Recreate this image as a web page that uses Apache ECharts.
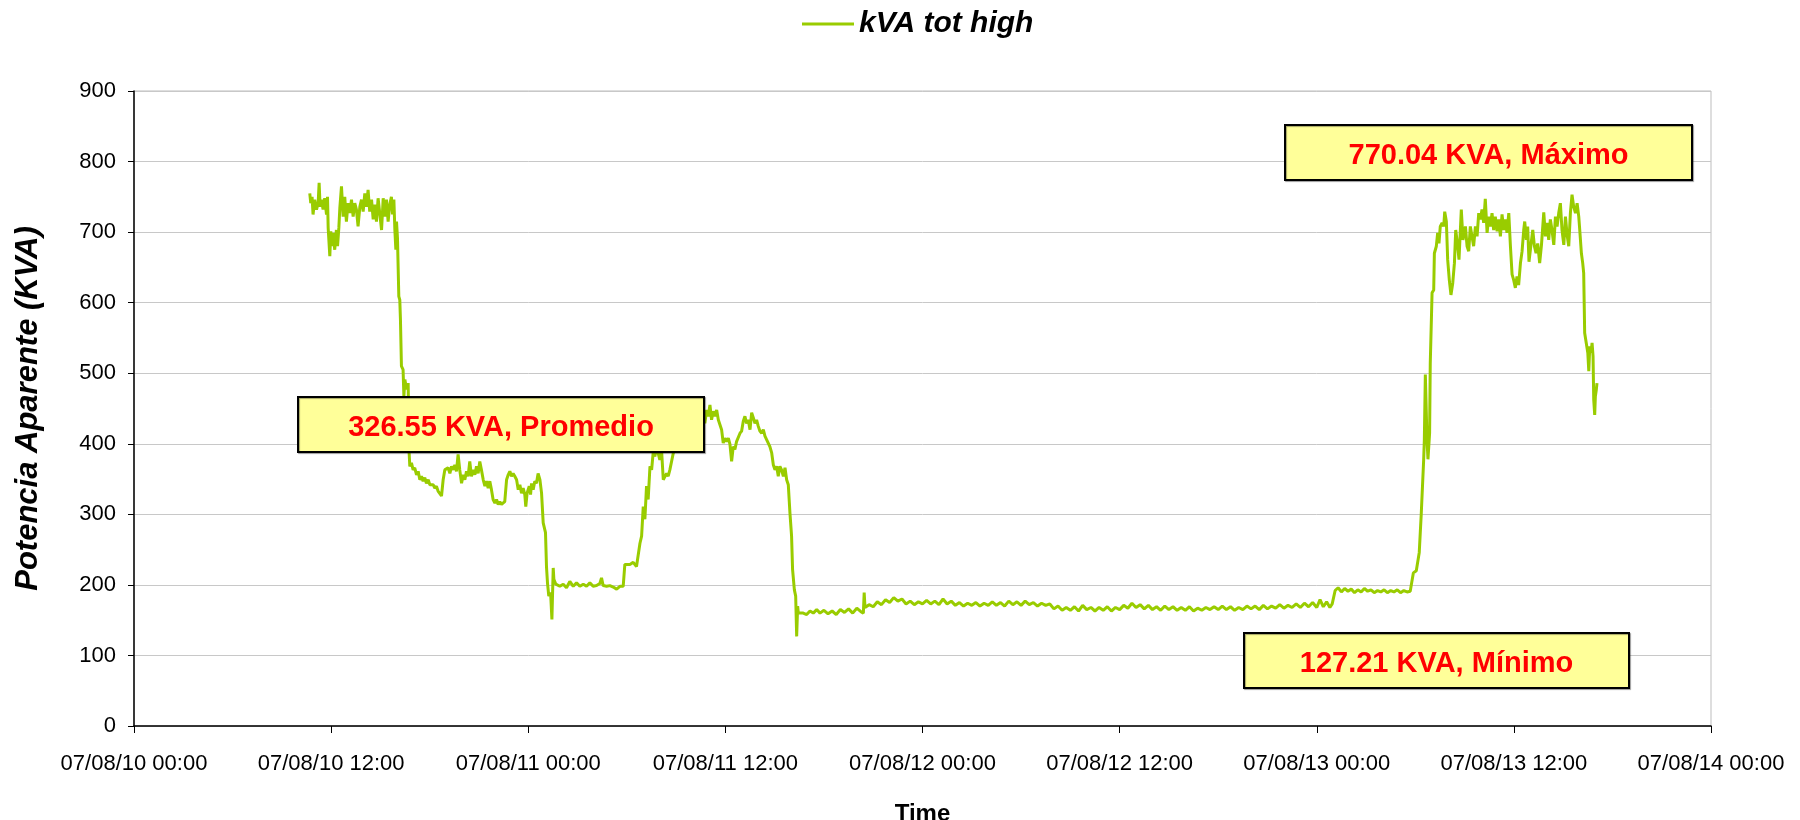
<!DOCTYPE html>
<html>
<head>
<meta charset="utf-8">
<title>kVA tot high</title>
<script src="https://cdn.jsdelivr.net/npm/echarts@6/dist/echarts.min.js"></script>
<style>
  html, body { margin: 0; padding: 0; background: #fff; }
  #main { width: 1800px; height: 820px; }
</style>
</head>
<body>
<div id="main"></div>
<script>
// hours since 07/08/10 00:00
var hours = [
  10.70, 10.76, 10.84, 10.90, 11.00, 11.11, 11.21, 11.27, 11.33, 11.41, 11.51, 11.61, 11.72, 11.78, 11.82,
  11.92, 11.98, 12.06, 12.12, 12.22, 12.32, 12.39, 12.47, 12.53, 12.63, 12.73, 12.83, 12.93, 13.03, 13.14,
  13.24, 13.34, 13.44, 13.54, 13.64, 13.75, 13.85, 13.95, 14.05, 14.15, 14.25, 14.35, 14.46, 14.56, 14.66,
  14.76, 14.86, 14.96, 15.07, 15.17, 15.27, 15.37, 15.47, 15.57, 15.67, 15.74, 15.82, 15.88, 15.94, 15.98,
  16.04, 16.10, 16.12, 16.18, 16.22, 16.28, 16.38, 16.43, 16.49, 16.59, 16.69, 16.74,
  16.79, 16.89, 16.99, 17.09, 17.20, 17.30, 17.40, 17.50, 17.60, 17.70, 17.80, 17.91, 18.01, 18.11, 18.21,
  18.31, 18.41, 18.51, 18.62, 18.72, 18.82, 18.92, 19.02, 19.12, 19.23, 19.33, 19.43, 19.53, 19.63, 19.73,
  19.83, 19.94, 20.04, 20.14, 20.24, 20.34, 20.44, 20.54, 20.65, 20.75, 20.85, 20.95, 21.05, 21.15, 21.26,
  21.36, 21.46, 21.56, 21.66, 21.76, 21.86, 21.97, 22.07, 22.17, 22.27, 22.37, 22.47, 22.57, 22.68, 22.78,
  22.88, 22.98, 23.08, 23.18, 23.29, 23.39, 23.49, 23.59, 23.69, 23.79, 23.85, 23.93, 24.06, 24.14, 24.20,
  24.30, 24.40, 24.50, 24.60, 24.71, 24.81, 24.91, 25.05, 25.11, 25.17, 25.25, 25.36, 25.44, 25.52, 25.56,
  25.68, 25.92, 26.13, 26.33, 26.53, 26.74, 26.94, 27.14, 27.35, 27.55, 27.75, 27.95, 28.16, 28.36, 28.46,
  28.56, 28.77, 28.97, 29.17, 29.38, 29.58, 29.78, 29.88, 29.98, 30.19, 30.39, 30.59, 30.69, 30.80, 30.90,
  31.00, 31.10, 31.20, 31.30, 31.41, 31.51, 31.61, 31.71, 31.81, 32.01, 32.12, 32.22, 32.32, 32.42, 32.52,
  32.62, 32.72, 32.83, 32.93, 33.03, 33.44, 33.84, 34.25, 34.55, 34.65, 34.75, 34.86, 34.96, 35.06, 35.16,
  35.26, 35.36, 35.47, 35.57, 35.67, 35.77, 35.87, 35.97, 36.07, 36.18, 36.28, 36.38, 36.48, 36.58, 36.68,
  36.78, 36.89, 36.99, 37.09, 37.19, 37.29, 37.39, 37.50, 37.60, 37.70, 37.80, 37.90, 38.00, 38.10, 38.21,
  38.31, 38.41, 38.51, 38.61, 38.71, 38.82, 38.92, 39.02, 39.12, 39.22, 39.32, 39.42, 39.53, 39.63, 39.73,
  39.83, 39.93, 40.03, 40.09, 40.20, 40.28, 40.34, 40.40, 40.44, 40.54, 40.74, 40.95, 41.15, 41.35, 41.56,
  41.76, 42.00, 42.25, 42.50, 42.75, 43.00, 43.25, 43.50, 43.75, 44.00,
  44.25, 44.40, 44.45, 44.50, 44.75, 45.00, 45.25, 45.50, 45.75, 46.00,
  46.25, 46.50, 46.75, 47.00, 47.25, 47.50, 47.75, 48.00, 48.25, 48.50,
  48.75, 49.00, 49.25, 49.50, 49.75, 50.00, 50.25, 50.50, 50.75, 51.00,
  51.25, 51.50, 51.75, 52.00, 52.25, 52.50, 52.75, 53.00, 53.25, 53.50,
  53.75, 54.00, 54.25, 54.50, 54.75, 55.00, 55.25, 55.50, 55.75, 56.00,
  56.25, 56.50, 56.75, 57.00, 57.25, 57.50, 57.75, 58.00, 58.25, 58.50,
  58.75, 59.00, 59.25, 59.50, 59.75, 60.00, 60.25, 60.50, 60.75, 61.00,
  61.25, 61.50, 61.75, 62.00, 62.25, 62.50, 62.75, 63.00, 63.25, 63.50,
  63.75, 64.00, 64.25, 64.50, 64.75, 65.00, 65.25, 65.50, 65.75, 66.00,
  66.25, 66.50, 66.75, 67.00, 67.25, 67.50, 67.75, 68.00, 68.25, 68.50,
  68.75, 69.00, 69.25, 69.50, 69.75, 70.00, 70.25, 70.50, 70.75, 71.00,
  71.25, 71.50, 71.75, 72.00, 72.20, 72.40, 72.60, 72.80, 72.94, 73.12,
  73.30, 73.50, 73.70, 73.90, 74.10, 74.30, 74.50, 74.70, 74.90, 75.10,
  75.30, 75.50, 75.70, 75.90, 76.10, 76.30, 76.50, 76.70, 76.90, 77.10,
  77.30, 77.50, 77.69, 77.88, 78.06, 78.24, 78.36,
  78.51, 78.55, 78.61, 78.71, 78.77, 78.87, 78.91, 79.02, 79.12, 79.16, 79.28, 79.36, 79.44, 79.52, 79.63,
  79.73, 79.79, 79.89, 79.97, 80.07, 80.17, 80.28, 80.38, 80.46, 80.58, 80.66, 80.80, 80.90, 81.05, 81.15,
  81.25, 81.35, 81.45, 81.55, 81.66, 81.76, 81.86, 81.96, 82.06, 82.16, 82.26, 82.37, 82.47, 82.57, 82.67,
  82.77, 82.87, 82.98, 83.08, 83.18, 83.28, 83.38, 83.48, 83.58, 83.69, 83.79, 83.89, 83.99, 84.09, 84.19,
  84.29, 84.40, 84.50, 84.60, 84.66, 84.76, 84.84, 84.92, 85.05, 85.15, 85.25, 85.35, 85.45, 85.57, 85.68,
  85.82, 85.92, 86.02, 86.12, 86.22, 86.32, 86.43, 86.53, 86.63, 86.73, 86.83, 86.93, 87.04, 87.14, 87.24,
  87.34, 87.44, 87.54, 87.64, 87.75, 87.85, 87.95, 88.01, 88.11, 88.19, 88.25, 88.31, 88.42, 88.50, 88.56,
  88.62, 88.70, 88.76, 88.82, 88.86, 88.92, 88.96, 89.02, 89.06
];

var kva = [
  755, 741, 750, 725, 746, 732, 741, 770, 736, 746, 732, 748, 725, 750, 706,
  666, 701, 680, 699, 675, 703, 680, 706, 734, 765, 722, 750, 715, 741, 727,
  746, 722, 741, 732, 708, 736, 746, 729, 755, 736, 760, 729, 746, 718, 739,
  715, 748, 727, 703, 748, 722, 746, 715, 739, 750, 725, 746, 703, 675, 715,
  691, 689, 609, 604, 576, 510, 505, 467, 491, 477, 486, 392,
  368, 373, 363, 366, 356, 361, 349, 354, 347, 352, 344, 349, 342, 340, 342,
  337, 340, 333, 335, 326, 349, 363, 361, 366, 358, 368, 363, 370, 361, 385,
  363, 344, 356, 349, 361, 354, 375, 354, 363, 356, 368, 358, 375, 363, 349,
  340, 347, 337, 347, 335, 321, 316, 321, 314, 318, 314, 316, 318, 349, 356,
  361, 354, 358, 354, 349, 335, 342, 330, 337, 328, 311, 330, 340, 328, 344,
  335, 347, 344, 358, 349, 330, 288, 274, 226, 203, 184, 189, 151, 224, 208,
  201, 198, 201, 196, 205, 198, 203, 198, 201, 198, 203, 198, 199, 202, 210,
  199, 198, 199, 197, 194, 198, 198, 229, 231, 229, 232, 226, 226, 259, 269,
  311, 293, 340, 321, 368, 363, 389, 382, 396, 377, 389, 349, 349, 358, 354,
  363, 363, 387, 389, 394, 400, 410, 425, 435, 444, 429, 448, 439, 455, 434,
  446, 439, 448, 434, 427, 420, 401, 408, 403, 408, 399, 375, 396, 392, 403,
  401, 415, 418, 432, 439, 429, 434, 420, 444, 437, 429, 434, 425, 418, 415,
  420, 411, 406, 408, 396, 387, 370, 363, 368, 354, 368, 363, 354, 366, 349,
  342, 302, 269, 222, 193, 184, 127, 170, 160, 158, 160, 158, 163, 160, 165,
  160, 164, 159, 163, 158, 165, 161, 166, 160, 167,
  162, 160, 189, 168, 172, 169, 176, 172, 179, 175,
  182, 177, 180, 173, 177, 172, 176, 173, 178, 173,
  177, 172, 180, 173, 177, 171, 175, 170, 174, 171,
  175, 170, 174, 171, 176, 171, 175, 170, 177, 172,
  176, 171, 177, 172, 175, 170, 174, 171, 173, 166,
  170, 164, 168, 164, 169, 163, 171, 165, 168, 163,
  168, 164, 169, 163, 168, 165, 171, 167, 174, 168,
  172, 166, 171, 165, 169, 164, 170, 165, 169, 164,
  168, 164, 169, 163, 167, 164, 168, 165, 169, 165,
  170, 165, 169, 164, 168, 165, 170, 166, 170, 165,
  171, 166, 170, 167, 172, 167, 171, 168, 173, 168,
  174, 169, 175, 168, 179, 169, 176, 168, 173, 192,
  196, 190, 195, 191, 194, 189, 193, 190, 195, 191,
  193, 189, 192, 190, 193, 189, 192, 190, 193, 189,
  192, 190, 191, 217, 220, 246, 300,
  378, 406, 498, 406, 378, 415, 514, 614, 618, 670, 680, 699, 684, 708, 713,
  708, 729, 715, 661, 632, 611, 628, 656, 703, 680, 661, 732, 689, 708, 680,
  673, 708, 694, 680, 708, 694, 727, 718, 732, 713, 747, 699, 722, 708, 727,
  703, 722, 701, 718, 694, 725, 703, 718, 699, 727, 680, 640, 632, 621, 637,
  625, 656, 673, 703, 715, 689, 708, 658, 684, 703, 680, 670, 684, 656, 682,
  728, 694, 713, 689, 718, 703, 682, 722, 708, 727, 741, 703, 682, 722, 696,
  680, 727, 753, 736, 727, 741, 722, 703, 670, 656, 642, 557, 555, 529, 503,
  538, 529, 543, 524, 463, 441, 467, 477, 486
];

var tickLabels = [
  '07/08/10 00:00', '07/08/10 12:00', '07/08/11 00:00', '07/08/11 12:00', '07/08/12 00:00',
  '07/08/12 12:00', '07/08/13 00:00', '07/08/13 12:00', '07/08/14 00:00'
];

var seriesName = 'kVA tot high';
var noteTexts = ['326.55 KVA, Promedio', '770.04 KVA, Máximo', '127.21 KVA, Mínimo'];

var FONT = 'Arial, "Liberation Sans", sans-serif';

function noteBox(text, x, y, w, h) {
  return {
    type: 'group',
    left: x,
    top: y,
    z: 100,
    children: [
      {
        type: 'rect',
        z: 100,
        shape: { x: 0, y: 0, width: w, height: h },
        style: { fill: '#ffff99', stroke: '#000', lineWidth: 2,
                 shadowColor: 'rgba(0,0,0,0.35)', shadowOffsetX: 1, shadowOffsetY: 1, shadowBlur: 1 }
      },
      {
        type: 'text',
        z: 101,
        x: w / 2,
        y: h / 2 + 3,
        style: { text: text, fill: '#ff0000', font: 'bold 29px ' + FONT,
                 textAlign: 'center', textVerticalAlign: 'middle' }
      }
    ]
  };
}

var myChart = echarts.init(document.getElementById('main'));

var points = hours.map(function (h, i) { return [h, kva[i]]; });

var option = {
  animation: false,
  backgroundColor: '#fff',
  textStyle: { fontFamily: FONT },
  legend: {
    left: 802,
    top: 9,
    padding: 0,
    itemWidth: 52,
    itemHeight: 3,
    itemGap: 9,
    data: [{ name: seriesName, icon: 'rect' }],
    textStyle: { fontSize: 30, fontWeight: 'bold', fontStyle: 'italic', color: '#000', fontFamily: FONT }
  },
  grid: {
    left: 134,
    right: 89,
    top: 91,
    bottom: 94,
    containLabel: false,
    outerBoundsMode: 'none',
    show: true,
    borderColor: '#bdbdbd',
    borderWidth: 1
  },
  xAxis: {
    type: 'value',
    min: 0,
    max: 96,
    interval: 12,
    name: 'Time',
    nameLocation: 'middle',
    nameGap: 76,
    nameTextStyle: { fontSize: 24, fontWeight: 'bold', color: '#000', fontFamily: FONT },
    axisLine: { show: true, onZero: false, lineStyle: { color: '#000', width: 1.5 } },
    axisTick: { show: true, length: 7, lineStyle: { color: '#000' } },
    splitLine: { show: false },
    axisLabel: {
      margin: 27,
      fontSize: 22,
      color: '#000',
      fontFamily: FONT,
      showMinLabel: true,
      showMaxLabel: true,
      formatter: function (v) { return tickLabels[Math.round(v / 12)] || ''; }
    }
  },
  yAxis: {
    type: 'value',
    min: 0,
    max: 900,
    interval: 100,
    name: 'Potencia Aparente (KVA)',
    nameLocation: 'middle',
    nameGap: 90,
    nameTextStyle: { fontSize: 31, fontWeight: 'bold', fontStyle: 'italic', color: '#000', fontFamily: FONT },
    axisLine: { show: true, lineStyle: { color: '#000', width: 1.5 } },
    axisTick: { show: true, length: 6, lineStyle: { color: '#000' } },
    splitLine: { show: true, lineStyle: { color: '#c8c8c8', width: 1 } },
    axisLabel: { margin: 18, fontSize: 22, color: '#000', fontFamily: FONT }
  },
  series: [{
    name: seriesName,
    type: 'line',
    data: points,
    symbol: 'none',
    showSymbol: false,
    color: '#99cc00',
    lineStyle: { color: '#99cc00', width: 3 }
  }],
  graphic: [
    noteBox(noteTexts[0], 297, 396, 406, 55),
    noteBox(noteTexts[1], 1284, 124, 407, 55),
    noteBox(noteTexts[2], 1243, 632, 385, 55)
  ]
};

myChart.setOption(option);
</script>
</body>
</html>
